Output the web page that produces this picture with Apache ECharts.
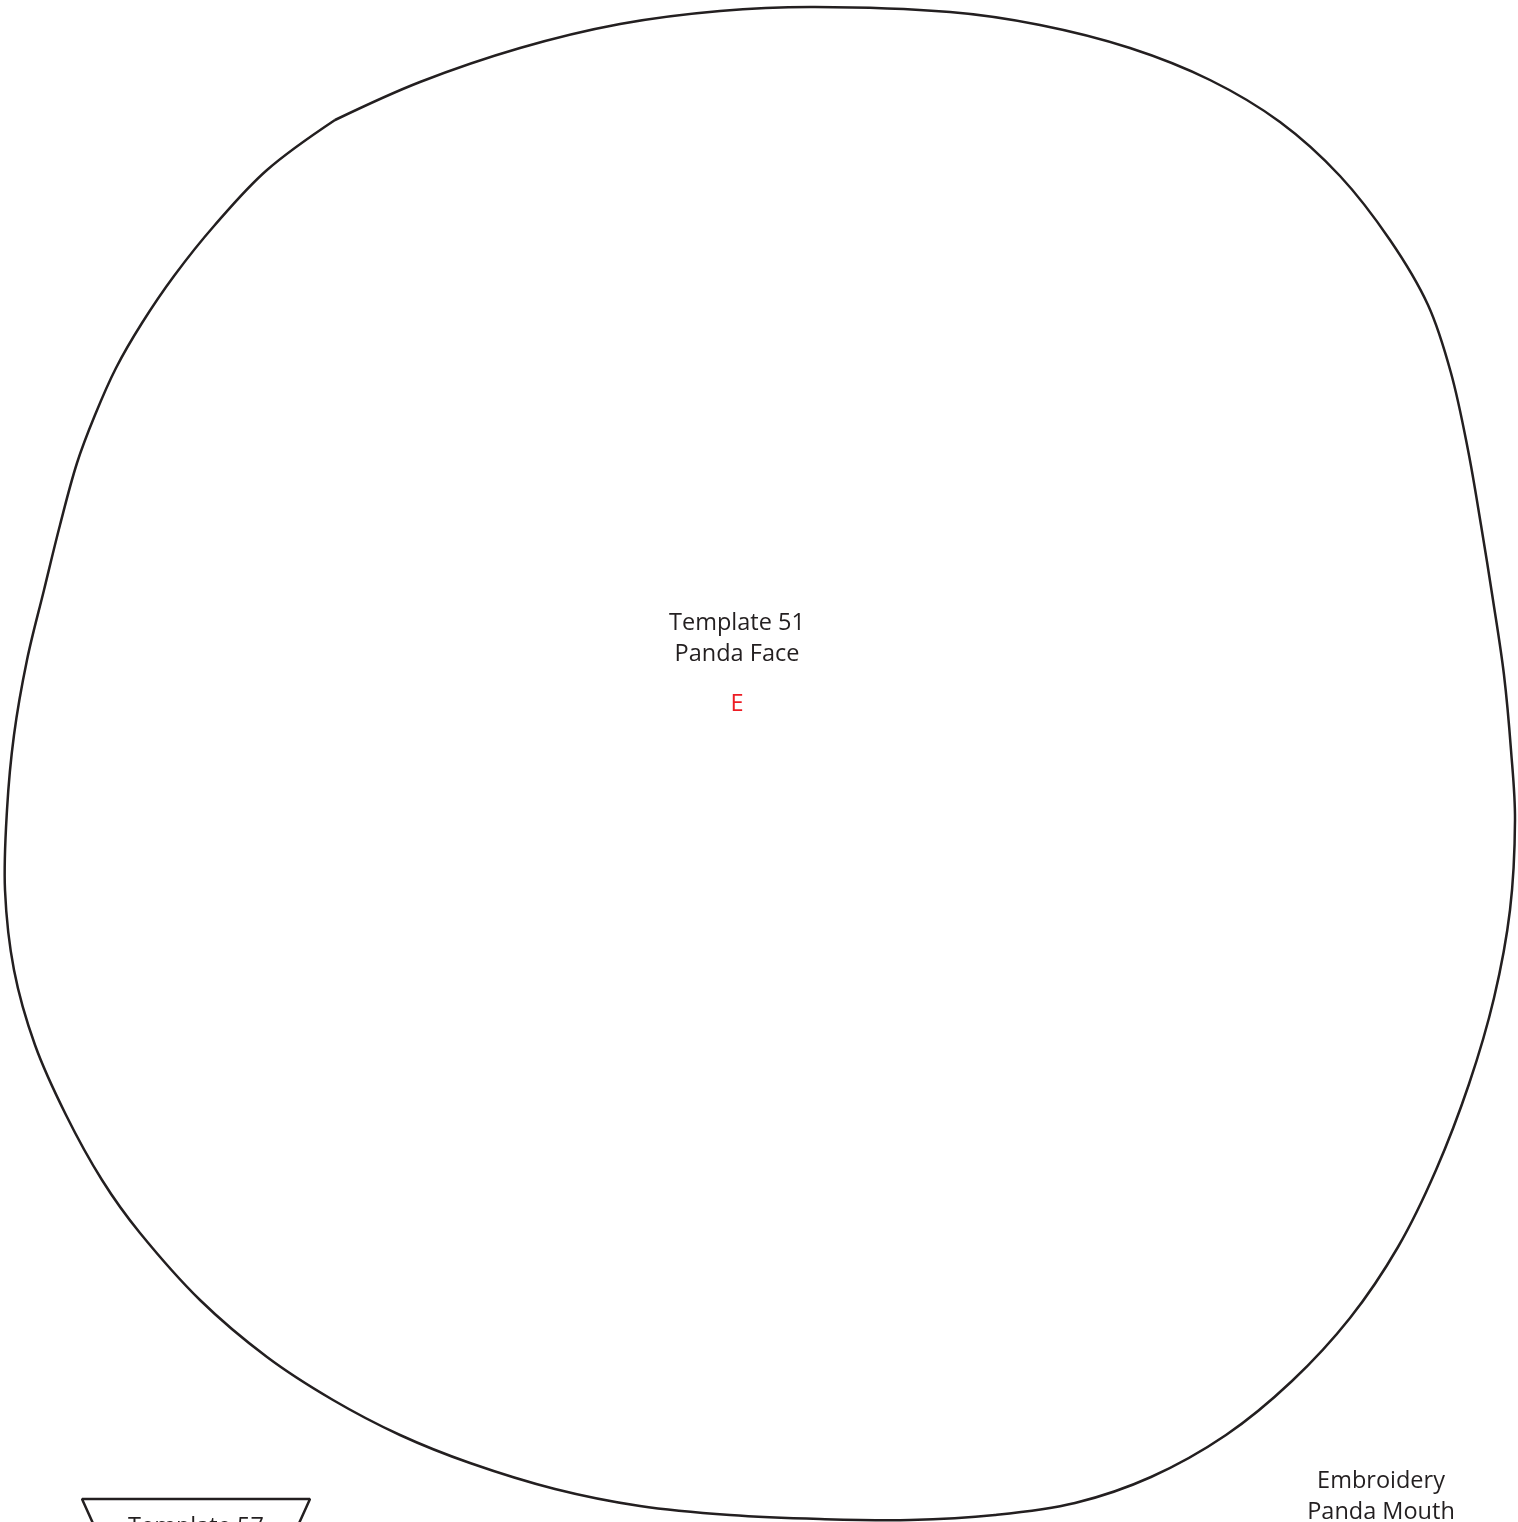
<!DOCTYPE html>
<html>
<head>
<meta charset="utf-8">
<script src="https://cdn.jsdelivr.net/npm/echarts@6/dist/echarts.min.js"></script>
<style>
  html, body { margin: 0; padding: 0; background: #fff; }
</style>
</head>
<body>
<div id="echart" style="width: 1518px;height:1522px"></div>
<script>
// outline of template 51 (panda face), page coords, starts/ends at the top-left kink
const faceX = [335, 420, 520, 620, 720, 815, 950, 1040, 1130, 1210, 1280, 1340, 1390, 1428, 1451, 1468, 1481, 1493, 1504, 1511, 1515, 1510, 1494, 1469, 1436, 1398, 1350, 1292, 1226, 1151, 1075, 995, 910, 820, 730, 640, 555, 470, 400, 333, 267, 200, 140, 102, 66, 35, 14, 5, 7, 14, 27, 44, 60, 77, 95, 116, 142, 174, 214, 267, 335];
const faceY = [120, 82, 48, 24, 11, 7, 12, 25, 48, 80, 122, 176, 240, 305, 373, 450, 525, 600, 675, 750, 820, 910, 998, 1084, 1170, 1247, 1318, 1381, 1435, 1477, 1503, 1515, 1520, 1519, 1515, 1506, 1489, 1463, 1435, 1400, 1357, 1300, 1233, 1180, 1115, 1045, 970, 890, 810, 735, 660, 590, 525, 463, 415, 368, 323, 276, 226, 170, 120];

// template 57 trapezoid, cut off by the page bottom
const trapX = [96, 82, 310, 296];
const trapY = [1530, 1499, 1499, 1530];

const labels = ['Template 51', 'Panda Face', 'E', 'Embroidery', 'Panda Mouth', 'Template 57'];
const labelX = [737, 737, 737, 1381, 1381, 196];
const labelY = [623.5, 654.5, 704.5, 1481.5, 1512.5, 1527];
const labelColor = ['#231f20', '#231f20', '#ed1c24', '#231f20', '#231f20', '#231f20'];

const zip = (xs, ys) => xs.map((x, i) => [x, ys[i]]);

// one smooth polyline through all outline points, drawn once
function renderOutline(params, api) {
  if (params.dataIndex !== 0) return null;
  const pts = faceX.map((x, i) => api.coord([x, faceY[i]]));
  return {
    type: 'polyline',
    shape: { points: pts, smooth: 0.35 },
    style: { fill: 'none', stroke: '#231f20', lineWidth: 2.5 }
  };
}

const chart = echarts.init(document.getElementById('echart'));
chart.setOption({
  animation: false,
  grid: { left: 0, right: 0, top: 0, bottom: 0 },
  xAxis: { type: 'value', min: 0, max: 1518, show: false },
  yAxis: { type: 'value', min: 0, max: 1522, inverse: true, show: false },
  series: [
    {
      type: 'custom',
      data: zip(faceX, faceY),
      renderItem: renderOutline
    },
    {
      type: 'line',
      data: zip(trapX, trapY),
      showSymbol: false,
      lineStyle: { color: '#231f20', width: 2.5 }
    },
    {
      type: 'scatter',
      symbolSize: 0,
      clip: false,
      itemStyle: { opacity: 1 },
      data: labels.map((t, i) => ({
        value: [labelX[i], labelY[i]],
        label: { color: labelColor[i] }
      })),
      label: {
        show: true,
        position: 'inside',
        formatter: (p) => labels[p.dataIndex],
        fontFamily: 'Open Sans',
        fontSize: 23.5
      }
    }
  ]
});
</script>
</body>
</html>
